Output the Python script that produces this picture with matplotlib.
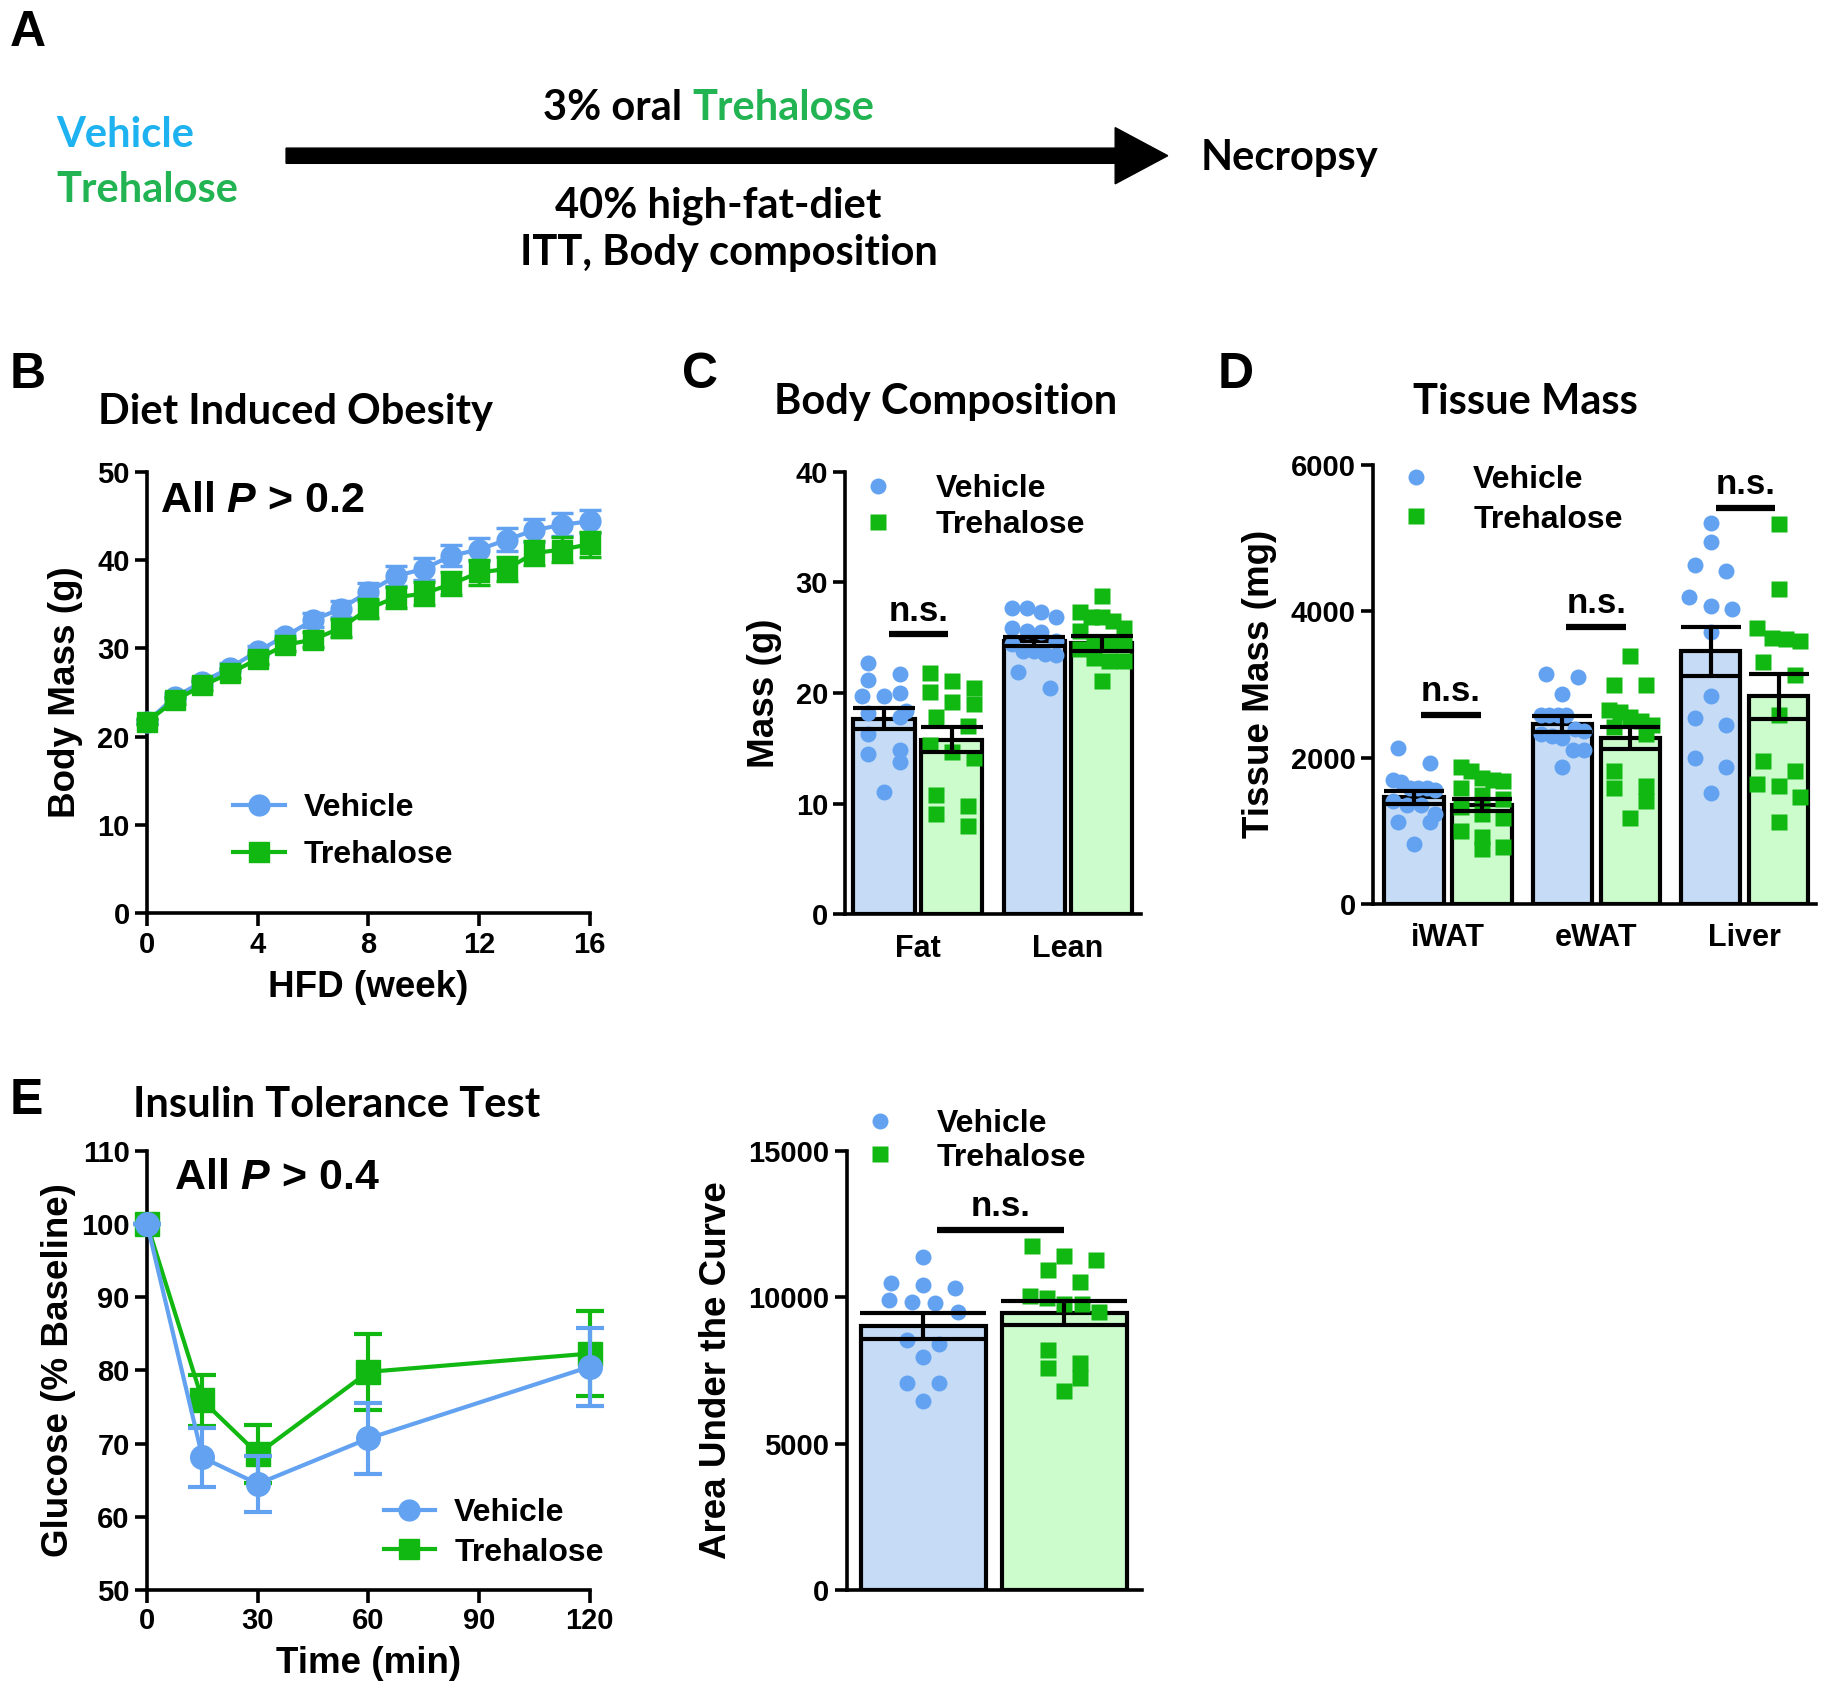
import numpy as np
import matplotlib
matplotlib.use('Agg')
import matplotlib.pyplot as plt
from matplotlib.lines import Line2D
from matplotlib.patches import FancyArrow

plt.rcParams['font.family'] = ['Liberation Sans', 'DejaVu Sans']
plt.rcParams['font.weight'] = 'bold'
plt.rcParams['axes.labelweight'] = 'bold'
plt.rcParams['mathtext.fontset'] = 'custom'
plt.rcParams['mathtext.it'] = 'Liberation Sans:italic:bold'
plt.rcParams['mathtext.rm'] = 'Liberation Sans:bold'

BLUE = '#62a2f0'
GREEN = '#12b812'
BLUE_FILL = '#c6dcf6'
GREEN_FILL = '#ccfccc'
TXT_BLUE = '#1eb2f0'
TXT_GREEN = '#22b352'
TITLE_FONT = ['Lato', 'DejaVu Sans']

# ---- B: body mass over HFD weeks
weeks = np.arange(17)
veh_mass = [21.7, 24.5, 26.2, 27.8, 29.7, 31.4, 33.2, 34.5, 36.4, 38.2,
            39.0, 40.5, 41.2, 42.3, 43.4, 44.0, 44.4]
veh_mass_sem = [0.3, 0.4, 0.5, 0.5, 0.6, 0.6, 0.8, 0.9, 1.0, 1.1,
                1.2, 1.2, 1.3, 1.3, 1.3, 1.3, 1.3]
tre_mass = [21.7, 24.1, 25.8, 27.2, 28.8, 30.4, 31.0, 32.3, 34.5, 35.8,
            36.2, 37.3, 38.6, 39.0, 40.8, 41.2, 41.8]
tre_mass_sem = [0.3, 0.4, 0.5, 0.5, 0.6, 0.7, 0.8, 1.0, 1.1, 1.2,
                1.3, 1.3, 1.4, 1.4, 1.4, 1.4, 1.4]

# ---- C: body composition
comp_groups = ['Fat', 'Lean']
comp_veh_mean = [17.7, 24.7]
comp_veh_sem = [0.95, 0.4]
comp_tre_mean = [15.8, 24.5]
comp_tre_sem = [1.1, 0.7]
fat_veh = [21.7, 22.7, 21.2, 19.7, 20.0, 19.7, 17.8, 18.2, 18.4, 16.3,
           14.9, 14.5, 13.8, 11.1]
fat_tre = [21.1, 21.8, 20.5, 19.0, 20.1, 19.2, 17.8, 17.0, 14.7, 15.3,
           14.1, 10.8, 9.8, 9.1, 7.95]
lean_veh = [23.85, 27.7, 26.9, 27.3, 27.7, 25.9, 25.5, 25.6, 24.7, 24.4,
            23.85, 23.5, 23.4, 21.9, 20.5]
lean_tre = [28.8, 26.9, 26.9, 27.3, 25.6, 25.9, 26.5, 24.4, 24.5, 24.4,
            24.0, 23.2, 22.9, 22.9, 21.1]

# ---- D: tissue mass
tissues = ['iWAT', 'eWAT', 'Liver']
tis_veh_mean = [1457, 2461, 3450]
tis_veh_sem = [90, 110, 330]
tis_tre_mean = [1353, 2264, 2836]
tis_tre_sem = [85, 150, 310]
iwat_veh = [2134, 1925, 1587, 1587, 1587, 1665, 1691, 1561, 1405, 1353,
            1353, 1223, 1119, 1119, 817]
iwat_tre = [1717, 1691, 1821, 1873, 1681, 1587, 1483, 1431, 1327, 1223,
            1171, 989, 755, 781, 911]
ewat_veh = [3096, 3138, 2862, 2576, 2576, 2576, 2576, 2368, 2394, 2290,
            2264, 2316, 2108, 2108, 1873]
ewat_tre = [3383, 2992, 2992, 2498, 2628, 2654, 2550, 2446, 2316, 2420,
            1821, 1613, 1587, 1405, 1171]
liver_veh = [5204, 4944, 4632, 4554, 4070, 4189, 4023, 3721, 2847, 2534,
             2446, 1993, 1873, 1509]
liver_tre = [5194, 4304, 3773, 3617, 3305, 3591, 3632, 3122, 2576, 1952,
             1821, 1613, 1639, 1457, 1119]

# ---- E: insulin tolerance test
itt_time = [0, 15, 30, 60, 120]
itt_veh = [100, 68.1, 64.5, 70.7, 80.5]
itt_veh_sem = [0, 4.0, 3.8, 4.9, 5.3]
itt_tre = [100, 75.9, 68.6, 79.8, 82.3]
itt_tre_sem = [0, 3.5, 4.0, 5.2, 5.8]

auc_veh_mean = 9009
auc_veh_sem = 450
auc_tre_mean = 9474
auc_tre_sem = 410
auc_veh = [11369, 10428, 10496, 10326, 9838, 9895, 9804, 9497, 8397, 8533,
           7943, 7080, 7080, 6456]
auc_tre = [11767, 11426, 11256, 10916, 10519, 9781, 10031, 9781, 9974, 9497,
           8193, 7568, 7761, 7228, 6808]

W, H = 1568.0, 1452.0
fig = plt.figure(figsize=(18.31, 17.0), dpi=100)

over = fig.add_axes([0, 0, 1, 1])
over.set_xlim(0, W)
over.set_ylim(H, 0)
over.set_axis_off()


def rect(x0, x1, ytop, ybot):
    return [x0 / W, 1 - ybot / H, (x1 - x0) / W, (ybot - ytop) / H]


def style(ax):
    for s in ['top', 'right']:
        ax.spines[s].set_visible(False)
    for s in ['left', 'bottom']:
        ax.spines[s].set_linewidth(2.6)
    ax.tick_params(width=2.6, length=9, labelsize=21, direction='out')


def swarm(vals, diam_x, diam_y, maxw):
    # group points into rows and spread each row symmetrically
    vals = np.asarray(vals, float)
    offs = np.zeros(len(vals))
    rows = []
    for i in np.argsort(-vals, kind='stable'):
        if rows and rows[-1][0] - vals[i] < diam_y:
            rows[-1][1].append(i)
        else:
            rows.append([vals[i], [i]])
    for _, idx in rows:
        n = len(idx)
        if n == 1:
            continue
        dx = min(2 * diam_x, maxw / (n - 1))
        for k, i in enumerate(idx):
            offs[i] = (k - (n - 1) / 2) * dx
    return offs


def data_per_px(ax):
    pos = ax.get_position()
    wpx = pos.width * fig.get_figwidth() * fig.dpi
    hpx = pos.height * fig.get_figheight() * fig.dpi
    x0, x1 = ax.get_xlim()
    y0, y1 = ax.get_ylim()
    return (x1 - x0) / wpx, (y1 - y0) / hpx


def bar_panel(ax, vm, vs, tm, ts, vpts, tpts, off, width, ms=11.5,
              spread=0.72):
    upx, upy = data_per_px(ax)
    dpx = ms * fig.dpi / 72
    bar_px = width / upx
    cap = 0.5 * bar_px * 72 / fig.dpi
    for i in range(len(vm)):
        for c, m, s, pts, fill, col, mk in [
                (i - off, vm[i], vs[i], vpts[i], BLUE_FILL, BLUE, 'o'),
                (i + off, tm[i], ts[i], tpts[i], GREEN_FILL, GREEN, 's')]:
            ax.bar(c, m, width, color=fill, edgecolor='black',
                   linewidth=3, zorder=1)
            jit = swarm(pts, dpx * upx, dpx * upy, spread * width)
            ax.plot(c + jit, pts, ls='none', marker=mk, ms=ms, color=col,
                    mec='none', zorder=2)
            ax.errorbar(c, m, yerr=s, color='black', lw=3, capsize=cap,
                        capthick=3, zorder=3)


def ns(ax, x0, x1, y, dy):
    ax.plot([x0, x1], [y, y], color='black', lw=4.5, solid_capstyle='butt',
            clip_on=False, zorder=4)
    ax.text((x0 + x1) / 2, y + dy, 'n.s.', ha='center', va='bottom',
            fontsize=25, fontweight='bold')


scatter_handles = [
    Line2D([], [], ls='none', marker='o', ms=11.5, color=BLUE, mec='none',
           label='Vehicle'),
    Line2D([], [], ls='none', marker='s', ms=11.5, color=GREEN, mec='none',
           label='Trehalose')]
line_handles = [
    Line2D([], [], lw=3, marker='o', ms=15, color=BLUE, label='Vehicle'),
    Line2D([], [], lw=3, marker='s', ms=15, color=GREEN, label='Trehalose')]

# ---------------- panel A
AFS = 30
over.text(8, 28, 'A', fontsize=36, fontweight='bold', va='center',
          ha='left')
over.text(48, 115, 'Vehicle', color=TXT_BLUE, fontsize=AFS,
          family=TITLE_FONT, fontweight='bold', va='center')
over.text(48, 162, 'Trehalose', color=TXT_GREEN, fontsize=AFS,
          family=TITLE_FONT, fontweight='bold', va='center')
over.add_patch(FancyArrow(245, 133, 755, 0, width=13, head_width=48,
                          head_length=45, length_includes_head=True,
                          color='black'))
over.text(584, 92, '3% oral', fontsize=AFS, family=TITLE_FONT,
          fontweight='bold', ha='right', va='center')
over.text(593, 92, 'Trehalose', color=TXT_GREEN, fontsize=AFS,
          family=TITLE_FONT, fontweight='bold', ha='left', va='center')
over.text(615, 176, '40% high-fat-diet', fontsize=AFS, family=TITLE_FONT,
          fontweight='bold', ha='center', va='center')
over.text(624, 216, 'ITT, Body composition', fontsize=AFS,
          family=TITLE_FONT, fontweight='bold', ha='center', va='center')
over.text(1028, 135, 'Necropsy', fontsize=AFS, family=TITLE_FONT,
          fontweight='bold', ha='left', va='center')

for letter, x, y in [('B', 8, 320), ('C', 584, 320), ('D', 1043, 320),
                     ('E', 8, 940)]:
    over.text(x, y, letter, fontsize=36, fontweight='bold', va='center',
              ha='left')
for title, x, y in [('Diet Induced Obesity', 253, 352),
                    ('Body Composition', 810, 343),
                    ('Tissue Mass', 1306, 343),
                    ('Insulin Tolerance Test', 288, 944)]:
    over.text(x, y, title, fontsize=30, family=TITLE_FONT,
              fontweight='bold', ha='center', va='center')

# ---------------- panel B
axB = fig.add_axes(rect(126, 505, 403, 780))
style(axB)
axB.errorbar(weeks, veh_mass, yerr=veh_mass_sem, color=BLUE, lw=3,
             marker='o', ms=15, capsize=8, capthick=2.5, elinewidth=2.5,
             clip_on=False, zorder=3)
axB.errorbar(weeks, tre_mass, yerr=tre_mass_sem, color=GREEN, lw=3,
             marker='s', ms=15, capsize=8, capthick=2.5, elinewidth=2.5,
             clip_on=False, zorder=4)
axB.set_xlim(0, 16)
axB.set_ylim(0, 50)
axB.set_xticks([0, 4, 8, 12, 16])
axB.set_yticks(range(0, 51, 10))
axB.set_xlabel('HFD (week)', fontsize=26.5, labelpad=8)
axB.set_ylabel('Body Mass (g)', fontsize=26.5, labelpad=10)
axB.text(0.03, 0.935, 'All $P$ > 0.2', transform=axB.transAxes,
         fontsize=31, va='center', ha='left')
axB.legend(handles=line_handles, loc='center left',
           bbox_to_anchor=(0.13, 0.185), frameon=False, fontsize=23,
           handlelength=1.6, handletextpad=0.6, labelspacing=0.55)

# ---------------- panel C
axC = fig.add_axes(rect(724, 977, 403, 781))
style(axC)
axC.set_xlim(-0.482, 1.486)
axC.set_ylim(0, 40)
bar_panel(axC, comp_veh_mean, comp_veh_sem, comp_tre_mean, comp_tre_sem,
          [fat_veh, lean_veh], [fat_tre, lean_tre], off=0.225, width=0.407)
axC.set_xticks([0, 1])
axC.set_xticklabels(comp_groups, fontsize=22)
axC.tick_params(axis='x', length=0, pad=14)
axC.set_yticks(range(0, 41, 10))
axC.set_ylabel('Mass (g)', fontsize=26.5, labelpad=10)
ns(axC, -0.194, 0.203, 25.3, 0.6)
axC.legend(handles=scatter_handles, loc='upper left',
           bbox_to_anchor=(-0.04, 1.06), frameon=False, fontsize=23,
           handlelength=1.0, handletextpad=1.3, labelspacing=0.2)

# ---------------- panel D
axD = fig.add_axes(rect(1176, 1555, 397, 772))
style(axD)
axD.set_xlim(-0.504, 2.48)
axD.set_ylim(0, 6000)
bar_panel(axD, tis_veh_mean, tis_veh_sem, tis_tre_mean, tis_tre_sem,
          [iwat_veh, ewat_veh, liver_veh], [iwat_tre, ewat_tre, liver_tre],
          off=0.23, width=0.40)
axD.set_xticks([0, 1, 2])
axD.set_xticklabels(tissues, fontsize=22)
axD.tick_params(axis='x', length=0, pad=14)
axD.set_yticks(range(0, 6001, 2000))
axD.set_ylabel('Tissue Mass (mg)', fontsize=26.5, labelpad=10)
ns(axD, -0.18, 0.22, 2586, 90)
ns(axD, 1 - 0.204, 1 + 0.202, 3783, 90)
ns(axD, 2 - 0.194, 2 + 0.204, 5412, 90)
axD.legend(handles=scatter_handles, loc='upper left',
           bbox_to_anchor=(-0.005, 1.065), frameon=False, fontsize=23,
           handlelength=1.0, handletextpad=1.3, labelspacing=0.3)

# ---------------- panel E (ITT)
axE = fig.add_axes(rect(126, 505, 983, 1358))
style(axE)
axE.errorbar(itt_time, itt_tre, yerr=itt_tre_sem, color=GREEN, lw=3,
             marker='s', ms=17, capsize=10, capthick=3, elinewidth=3,
             clip_on=False, zorder=3)
axE.errorbar(itt_time, itt_veh, yerr=itt_veh_sem, color=BLUE, lw=3,
             marker='o', ms=17, capsize=10, capthick=3, elinewidth=3,
             clip_on=False, zorder=4)
axE.set_xlim(0, 120)
axE.set_ylim(50, 110)
axE.set_xticks(range(0, 121, 30))
axE.set_yticks(range(50, 111, 10))
axE.set_xlabel('Time (min)', fontsize=26.5, labelpad=8)
axE.set_ylabel('Glucose (% Baseline)', fontsize=26.5, labelpad=4)
axE.text(0.06, 0.939, 'All $P$ > 0.4', transform=axE.transAxes,
         fontsize=31, va='center', ha='left')
axE.legend(handles=line_handles, loc='center left',
           bbox_to_anchor=(0.47, 0.13), frameon=False, fontsize=23,
           handlelength=1.6, handletextpad=0.6, labelspacing=0.3)

# ---------------- panel E (AUC)
axF = fig.add_axes(rect(725, 978, 983, 1358))
style(axF)
axF.set_xlim(-1.042, 1.05)
axF.set_ylim(0, 15000)
bar_panel(axF, [auc_veh_mean], [auc_veh_sem], [auc_tre_mean],
          [auc_tre_sem], [auc_veh], [auc_tre], off=0.5, width=0.887,
          spread=0.55)
axF.set_xticks([])
axF.set_yticks(range(0, 15001, 5000))
axF.set_ylabel('Area Under the Curve', fontsize=26.5, labelpad=10)
ns(axF, -0.5 + 0.096, 0.5, 12300, 250)
axF.legend(handles=scatter_handles, loc='upper left',
           bbox_to_anchor=(-0.04, 1.16), frameon=False, fontsize=23,
           handlelength=1.0, handletextpad=1.3, labelspacing=0.1)

fig.savefig('out.png', dpi=100, facecolor='white')
